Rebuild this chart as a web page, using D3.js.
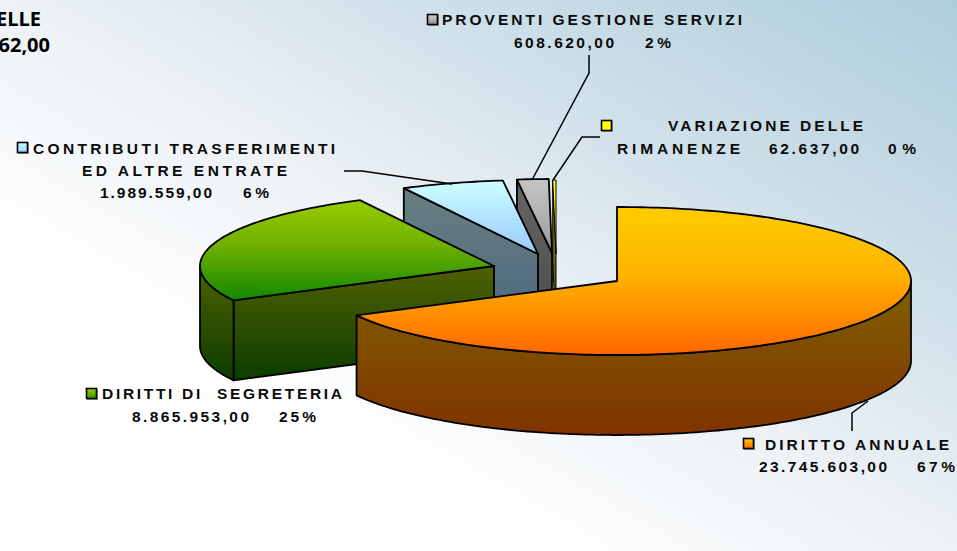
<!DOCTYPE html>
<html><head><meta charset="utf-8">
<script src="https://cdn.jsdelivr.net/npm/d3@7/dist/d3.min.js"></script>
<style>html,body{margin:0;padding:0;background:#fff;overflow:hidden}svg{display:block}</style>
</head><body><svg id="c" width="957" height="551"></svg>
<script>
// ---- data ----
const categories = ["DIRITTO ANNUALE","DIRITTI DI SEGRETERIA","CONTRIBUTI TRASFERIMENTI ED ALTRE ENTRATE","PROVENTI GESTIONE SERVIZI","VARIAZIONE DELLE RIMANENZE"];
const values = [23745603, 8865953, 1989559, 608620, 62637];
const clippedTitle = ["ELLE","62,00"];

// ---- styling / layout ----
const W=957,H=551,RX=294,RY=74,DEPTH=80;
const apexX=[617,494,538,552,556], apexY=[281,266,254,253,254];
const topColors=[["#ffcc00","#ffb400","#ff6600"],["#99cc00","#6fb000","#118800"],["#ccffff","#b4e6ff","#99ccff"],["#c4c4c4","#b4b4b4","#969696"],["#ffff00","#ffee00","#c8c000"]];
const wallColors=[["#806000","#803300"],["#4f6100","#0c3c00"],["#688080","#4c6680"],["#666666","#4a4a4a"],["#808000","#605000"]];
const keyColors=[["#ffcc00","#ff6600"],["#99cc00","#339900"],["#ccffff","#99ccff"],["#d0d0d0","#909090"],["#ffff00","#ffff00"]];
// per-slice label: lines split by [text,x0,x1,baseline]; value/percent parts are filled from the data
const total=d3.sum(values);
const fmt=d3.formatLocale({decimal:",",thousands:".",grouping:[3],currency:["",""]}).format(",.2f");
const val=i=>fmt(values[i]), pct=i=>Math.round(values[i]/total*100)+"%";
const labels=[
 {key:[743,438,11],lead:[[852,431],[852,413],[868,401]],lines:[[categories[0],765,949,450],[val(0),759,887,472],[pct(0),917,955,472]]},
 {key:[86,388,11],lead:null,lines:[["DIRITTI DI  SEGRETERIA",102,342,399],[val(1),132,249,422],[pct(1),279,316,422]]},
 {key:[17,142,11],lead:[[344,171],[362,171],[452,184]],lines:[["CONTRIBUTI TRASFERIMENTI",33,335,154],["ED ALTRE ENTRATE",82,287,176],[val(2),100,212,198],[pct(2),243,269,198]]},
 {key:[427,14,11],lead:[[589,55],[589,73],[532,180]],lines:[[categories[3],442,742,25],[val(3),514,614,48],[pct(3),645,671,48]]},
 {key:[601,120,11],lead:[[600,137],[582,137],[553,180]],lines:[["VARIAZIONE DELLE",668,863,131],["RIMANENZE",617,740,154],[val(4),769,859,154],[pct(4),888,916,154]]}
];

const svg=d3.select("#c"), defs=svg.append("defs");
function grad(id,stops,attrs){
  const g=defs.append("linearGradient").attr("id",id);
  Object.entries(attrs||{x1:0,y1:0,x2:0,y2:1}).forEach(([k,v])=>g.attr(k,v));
  stops.forEach(([o,c])=>g.append("stop").attr("offset",o).attr("stop-color",c));
}
grad("bg",[[0,"#aecddc"],[0.28,"#cfe0e9"],[0.5,"#edf2f6"],[0.72,"#ffffff"],[1,"#ffffff"]],{x1:1,y1:0,x2:0,y2:1});
svg.append("rect").attr("width",W).attr("height",H).attr("fill","url(#bg)");

values.forEach((_,i)=>{
  const t=topColors[i]; grad("top"+i,[[0,t[0]],[0.45,t[1]],[1,t[2]]]);
  grad("wall"+i,wallColors[i].map((c,j)=>[j,c]));
  grad("key"+i,keyColors[i].map((c,j)=>[j,c]));
});

// pie angles, clockwise from 12 o'clock, keeping the data order
const arcs=d3.pie().sort(null).value(d=>d)(values);
const sx=d3.scaleLinear().domain([-1,1]).range([-RX,RX]);
const sy=d3.scaleLinear().domain([-1,1]).range([-RY,RY]);
const px=(a)=>sx(Math.sin(a)), py=(a)=>sy(-Math.cos(a));
const line=d3.line();
const sample=(a0,a1)=>{const n=Math.max(2,Math.ceil(Math.abs(a1-a0)/0.02));return d3.range(n+1).map(k=>a0+(a1-a0)*k/n);};

function drawSlice(i){
  const STROKE=i===4?1:1.8;
  const a=arcs[i], cx=apexX[i], cy=apexY[i], g=svg.append("g");
  const P=(ang,dz=0)=>[cx+px(ang),cy+py(ang)+dz];
  // left-facing cut wall, visible for slices sitting left of / behind the centre
  if(i>=1){
    const wall=[P(a.startAngle),[cx,cy],[cx,cy+DEPTH],P(a.startAngle,DEPTH)];
    g.append("path").attr("d",line(wall)+"Z").attr("fill",`url(#wall${i})`).attr("stroke","#000").attr("stroke-width",STROKE).attr("stroke-linejoin","round");
  }
  // outer rim: only the part on the near half of the ellipse
  const r0=Math.max(a.startAngle,Math.PI/2), r1=Math.min(a.endAngle,Math.PI*1.5);
  if(r1>r0){
    const s=sample(r0,r1);
    const rim=s.map(v=>P(v)).concat(s.slice().reverse().map(v=>P(v,DEPTH)));
    g.append("path").attr("d",line(rim)+"Z").attr("fill",`url(#wall${i})`).attr("stroke","#000").attr("stroke-width",STROKE).attr("stroke-linejoin","round");
  }
  const top=[[cx,cy]].concat(sample(a.startAngle,a.endAngle).map(v=>P(v)));
  g.append("path").attr("d",line(top)+"Z").attr("fill",`url(#top${i})`).attr("stroke","#000").attr("stroke-width",STROKE).attr("stroke-linejoin","round");
}
[4,3,2,1,0].forEach(drawSlice);

// labels
labels.forEach((l,i)=>{
  const g=svg.append("g");
  if(l.lead) g.append("path").attr("d",line(l.lead)).attr("fill","none").attr("stroke","#000").attr("stroke-width",1.5);
  const [kx,ky,ks]=l.key;
  g.append("rect").attr("x",kx+1).attr("y",ky+1).attr("width",ks).attr("height",ks).attr("fill","#999");
  g.append("rect").attr("x",kx+.5).attr("y",ky+.5).attr("width",ks-1).attr("height",ks-1).attr("fill",`url(#key${i})`).attr("stroke","#000").attr("stroke-width",1.6);
  l.lines.forEach(([t,x0,x1,y])=>{
    g.append("text").attr("x",x0).attr("y",y).attr("textLength",x1-x0).attr("lengthAdjust","spacing")
     .attr("font-family","'Liberation Sans',Arial,sans-serif").attr("font-weight","bold").attr("font-size",15.5)
     .attr("xml:space","preserve").style("white-space","pre").attr("fill","#0a0a0a").text(t);
  });
});
// title fragment cut by the left edge
clippedTitle.forEach((t,i)=>{
  svg.append("text").attr("x",i?50:41).attr("y",i?52:26).attr("text-anchor","end")
   .attr("font-family","'Open Sans',sans-serif").attr("font-weight","bold").attr("font-size",20).attr("fill","#000").text(t);
});
</script></body></html>
